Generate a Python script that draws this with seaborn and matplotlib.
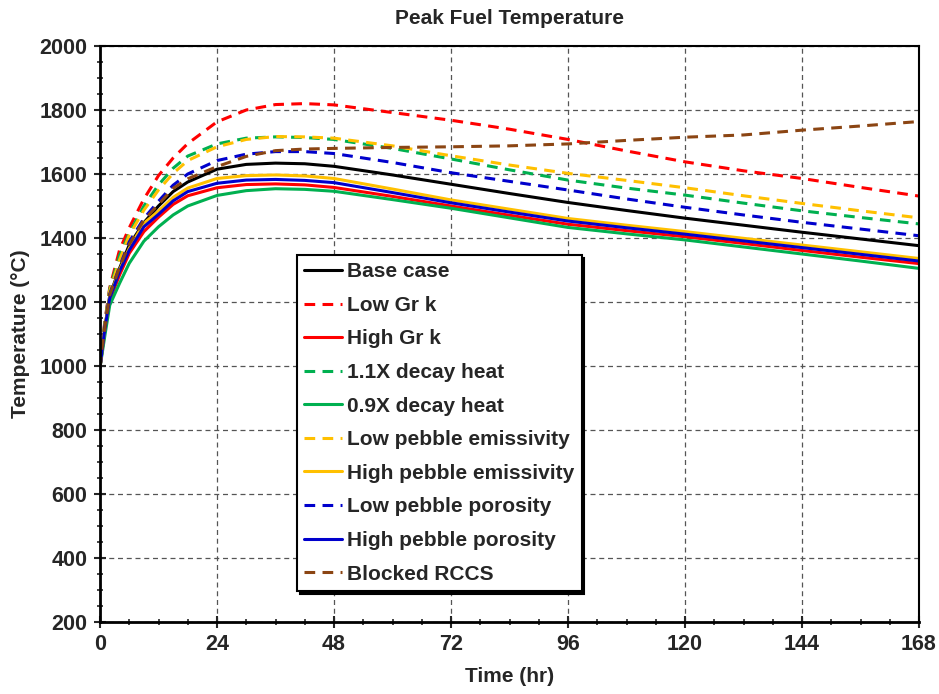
import matplotlib
matplotlib.use('Agg')
import matplotlib.pyplot as plt
import seaborn as sns
import pandas as pd
from matplotlib.ticker import MultipleLocator

# time points (hr)
time_hr = [0, 0.5, 1, 2, 4, 6, 9, 12, 15, 18, 24, 30, 36, 42, 48, 60, 72, 84, 96, 108, 120, 132, 144, 156, 168]

# peak fuel temperature (C)
base_case = [995, 1060, 1120, 1220, 1305, 1378, 1448, 1500, 1545, 1575, 1615, 1630, 1634, 1632, 1624, 1597, 1568, 1539, 1511, 1486, 1462, 1440, 1418, 1397, 1376]
low_gr_k = [995, 1075, 1140, 1245, 1362, 1432, 1522, 1595, 1650, 1695, 1763, 1800, 1817, 1820, 1816, 1792, 1768, 1740, 1708, 1672, 1638, 1610, 1586, 1558, 1531]
high_gr_k = [995, 1055, 1110, 1205, 1284, 1352, 1420, 1465, 1505, 1532, 1557, 1567, 1569, 1566, 1558, 1530, 1500, 1471, 1443, 1423, 1404, 1383, 1361, 1340, 1320]
decay_1_1x = [995, 1072, 1135, 1240, 1345, 1415, 1500, 1566, 1618, 1656, 1694, 1712, 1716, 1714, 1708, 1680, 1647, 1613, 1581, 1556, 1534, 1509, 1485, 1464, 1444]
decay_0_9x = [995, 1045, 1095, 1190, 1258, 1321, 1390, 1435, 1472, 1500, 1533, 1548, 1554, 1552, 1546, 1520, 1493, 1463, 1433, 1413, 1394, 1372, 1350, 1328, 1305]
low_emiss = [995, 1070, 1130, 1235, 1331, 1409, 1487, 1550, 1602, 1642, 1685, 1708, 1717, 1716, 1712, 1688, 1657, 1628, 1602, 1580, 1557, 1532, 1508, 1485, 1463]
high_emiss = [995, 1060, 1118, 1216, 1300, 1368, 1446, 1484, 1527, 1556, 1586, 1595, 1597, 1594, 1586, 1553, 1519, 1490, 1461, 1440, 1420, 1399, 1378, 1357, 1336]
low_poros = [995, 1065, 1125, 1225, 1310, 1388, 1461, 1515, 1565, 1600, 1642, 1662, 1670, 1670, 1664, 1636, 1604, 1577, 1550, 1522, 1496, 1472, 1449, 1428, 1407]
high_poros = [995, 1058, 1115, 1212, 1295, 1362, 1435, 1474, 1516, 1545, 1571, 1581, 1583, 1580, 1573, 1542, 1510, 1481, 1453, 1432, 1412, 1391, 1370, 1349, 1328]
blocked_rccs = [995, 1065, 1122, 1222, 1308, 1380, 1456, 1505, 1555, 1585, 1623, 1655, 1673, 1678, 1680, 1683, 1685, 1688, 1694, 1705, 1715, 1722, 1737, 1750, 1764]

series = [
    ('Base case', base_case, 'black', '-'),
    ('Low Gr k', low_gr_k, '#FF0000', '--'),
    ('High Gr k', high_gr_k, '#FF0000', '-'),
    ('1.1X decay heat', decay_1_1x, '#00B050', '--'),
    ('0.9X decay heat', decay_0_9x, '#00B050', '-'),
    ('Low pebble emissivity', low_emiss, '#FFC000', '--'),
    ('High pebble emissivity', high_emiss, '#FFC000', '-'),
    ('Low pebble porosity', low_poros, '#0000CC', '--'),
    ('High pebble porosity', high_poros, '#0000CC', '-'),
    ('Blocked RCCS', blocked_rccs, '#8B4513', '--'),
]

sns.set_style('white')
plt.rcParams['font.family'] = ['Liberation Sans', 'DejaVu Sans']
plt.rcParams['font.weight'] = 'bold'

fig = plt.figure(figsize=(9.39, 6.94), dpi=100)
ax = fig.add_axes([100 / 939, 1 - 622 / 694, 819 / 939, 576 / 694])

for name, vals, color, ls in series:
    df = pd.DataFrame({'t': time_hr, 'T': vals})
    sns.lineplot(data=df, x='t', y='T', ax=ax, color=color, linewidth=2.2, label=name)
    if ls == '--':
        ax.lines[-1].set_dashes((3.5, 2.4))

ax.set_xlim(0, 168)
ax.set_ylim(200, 2000)
ax.xaxis.set_major_locator(MultipleLocator(24))
ax.xaxis.set_minor_locator(MultipleLocator(6))
ax.yaxis.set_major_locator(MultipleLocator(200))
ax.yaxis.set_minor_locator(MultipleLocator(50))
ax.grid(True, which='major', color='#555555', linestyle=(0, (4, 3)), linewidth=0.9)
ax.tick_params(which='major', direction='inout', length=8, width=1.5, labelsize=15.5, pad=5)
ax.tick_params(which='minor', direction='inout', length=5, width=1.2)
ax.tick_params(axis='x', which='both', bottom=True)
ax.tick_params(axis='y', which='both', left=True)
for lab in ax.get_xticklabels() + ax.get_yticklabels():
    lab.set_fontweight('bold')

for side in ['left', 'bottom']:
    ax.spines[side].set_linewidth(2.0)
    ax.spines[side].set_color('black')
for side in ['top', 'right']:
    ax.spines[side].set_linewidth(1.5)
    ax.spines[side].set_color('black')

ax.set_xlabel('Time (hr)', fontsize=15, fontweight='bold', labelpad=8)
ax.set_ylabel('Temperature (°C)', fontsize=15, fontweight='bold', labelpad=7)
ax.set_title('Peak Fuel Temperature', fontsize=15, fontweight='bold', pad=16)

leg = ax.legend(loc='upper left', bbox_to_anchor=(197 / 819, (622 - 255) / 576), borderaxespad=0,
                fontsize=15, frameon=True, fancybox=False, edgecolor='black',
                handlelength=1.8, handletextpad=0.25, labelspacing=0.7, borderpad=0.35,
                shadow={'color': 'black', 'alpha': 1.0})
leg.get_frame().set_linewidth(1.5)
for t in leg.get_texts():
    t.set_fontweight('bold')

fig.savefig('out.png', dpi=100)
